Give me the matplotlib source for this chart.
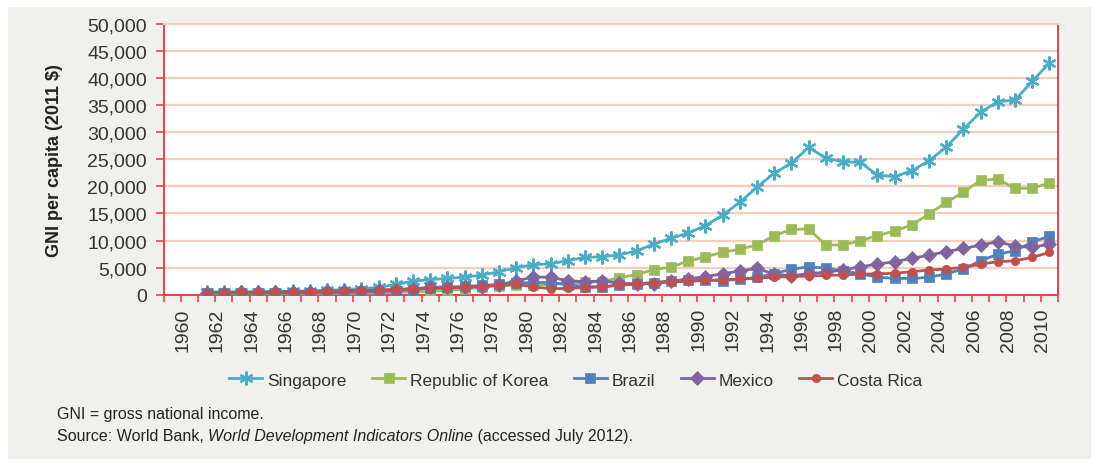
import matplotlib
matplotlib.use("Agg")
import matplotlib.pyplot as plt
from matplotlib.patches import Rectangle

# ---------------- data ----------------
categories = list(range(1960, 2012))          # category axis 1960-2011
data_years = list(range(1962, 2012))          # data start 1962
tick_label_years = [str(y) for y in range(1960, 2011, 2)]

singapore = [500, 540, 520, 540, 590, 650, 720, 820, 950, 1100,
             1350, 1900, 2500, 2800, 3000, 3250, 3600, 4250, 5000, 5550,
             5700, 6300, 6900, 7000, 7350, 8100, 9350, 10400, 11400, 12750,
             14700, 17050, 19850, 22450, 24300, 27200, 25250, 24550, 24450, 22100,
             21800, 22900, 24750, 27250, 30600, 33700, 35650, 35950, 39400, 42800]
korea = [110, 130, 130, 130, 140, 160, 190, 230, 270, 300,
         320, 400, 530, 600, 800, 1030, 1370, 1660, 1700, 1800,
         1900, 2100, 2300, 2400, 3150, 3700, 4620, 5100, 6200, 7000,
         7830, 8400, 9200, 10900, 12050, 12150, 9180, 9180, 9970, 10900,
         11800, 12870, 14900, 17050, 18900, 21150, 21350, 19650, 19650, 20650]
brazil = [250, 260, 260, 260, 280, 300, 330, 370, 430, 490,
          570, 730, 960, 1150, 1350, 1530, 1700, 1900, 2150, 2250,
          2250, 1850, 1500, 1450, 1800, 2050, 2200, 2600, 2750, 2700,
          2600, 2850, 3200, 3900, 4700, 5150, 4900, 4400, 3850, 3250,
          3000, 3000, 3200, 3850, 4750, 6250, 7500, 8100, 9750, 10800]
mexico = [350, 380, 420, 460, 500, 530, 570, 620, 690, 740,
          800, 910, 1100, 1350, 1450, 1350, 1500, 1850, 2500, 3300,
          3200, 2600, 2400, 2550, 2150, 2000, 2050, 2450, 2900, 3350,
          3850, 4400, 4850, 3800, 3500, 3900, 4150, 4600, 5150, 5650,
          6100, 6700, 7300, 7950, 8550, 9150, 9800, 8950, 8750, 9350]
costa_rica = [380, 400, 410, 430, 460, 490, 550, 620, 700, 780,
              850, 980, 1100, 1150, 1250, 1400, 1550, 1800, 1950, 1450,
              1100, 1150, 1300, 1450, 1750, 2000, 2200, 2400, 2450, 2650,
              2750, 2900, 3050, 3250, 3350, 3450, 3550, 3650, 3800, 3850,
              3950, 4250, 4550, 4750, 5050, 5650, 6100, 6250, 6900, 7800]

series_names = ["Singapore", "Republic of Korea", "Brazil", "Mexico", "Costa Rica"]
series_values = [singapore, korea, brazil, mexico, costa_rica]
series_colors = ["#4bacc6", "#9bbb59", "#4f81bd", "#8064a2", "#c0504d"]
series_markers = [(6, 2, 0), "s", "s", "D", "o"]
series_ms = [10, 7.5, 7.5, 7, 6]

y_ticks = list(range(0, 50001, 5000))

# ---------------- figure ----------------
W, H, DPI = 1098, 464, 100
fig = plt.figure(figsize=(W / DPI, H / DPI), dpi=DPI, facecolor="white")
bg = "#f0f0ec"
fig.patches.append(Rectangle((8 / W, 4 / H), (1091 - 8) / W, (456 - 4) / H,
                             transform=fig.transFigure, facecolor=bg,
                             edgecolor="none", zorder=-10))

left, right, top, bottom = 163.5, 1058, 25, 295.7
ax = fig.add_axes([left / W, 1 - bottom / H, (right - left) / W, (bottom - top) / H])
ax.set_zorder(5)
ax.set_facecolor("white")

FONT = ["Liberation Sans", "DejaVu Sans"]

cat_index = {y: i for i, y in enumerate(categories)}
xs = [cat_index[y] for y in data_years]

handles = []
for name, vals, col, mk, ms in zip(series_names, series_values, series_colors,
                                   series_markers, series_ms):
    mew = 1.6 if mk == (6, 2, 0) else 0.5
    h, = ax.plot(xs, vals, color=col, lw=2.0, marker=mk, ms=ms,
                 markerfacecolor=col, markeredgecolor=col, markeredgewidth=mew,
                 label=name, zorder=3)
    handles.append(h)

ax.set_xlim(-0.5, len(categories) - 0.5)
ax.set_ylim(0, 50000)

# gridlines
ax.set_yticks(y_ticks)
ax.set_yticklabels([f"{v:,}" for v in y_ticks], fontsize=14, family=FONT, color="#333333")
ax.yaxis.grid(True, color="#f9cbb9", lw=1.6, zorder=0)
ax.set_axisbelow(True)

# x: tick marks at category boundaries, labels slightly right of centers
bounds = [i - 0.5 for i in range(len(categories) + 1)]
ax.set_xticks(bounds)
ax.set_xticklabels([""] * len(bounds))
lab_pos = [cat_index[int(y)] + 0.62 for y in tick_label_years]
ax.set_xticks(lab_pos, tick_label_years, minor=True)
ax.tick_params(axis="x", which="minor", length=0, pad=9, labelrotation=90,
               labelsize=14, labelcolor="#333333")
for t in ax.get_xticklabels(minor=True):
    t.set_family(FONT)

red = "#e8404a"
ax.tick_params(axis="x", which="major", direction="out", length=5, width=1.2, color=red)
ax.tick_params(axis="y", direction="out", length=6, width=1.2, color=red, pad=6)

for s in ["left", "bottom", "right"]:
    ax.spines[s].set_color(red)
    ax.spines[s].set_linewidth(1.4)
ax.spines["top"].set_color("#f9cbb9")
ax.spines["top"].set_linewidth(1.4)

ax.set_ylabel("GNI per capita (2011 $)", fontsize=13, fontweight="bold",
              family=FONT, color="#222222", labelpad=10)
ax.yaxis.set_label_coords((63 - left) / (right - left), 0.5)

# legend
leg = fig.legend(handles=handles, loc="center", bbox_to_anchor=(576 / W, 1 - 381 / H),
                 ncol=5, frameon=False, handlelength=1.9, handletextpad=0.3,
                 columnspacing=1.45, prop={"family": FONT, "size": 12.5})
for t in leg.get_texts():
    t.set_color("#333333")

# notes
fig.text(57 / W, 1 - 415 / H, "GNI = gross national income.", fontsize=11.5,
         family=FONT, color="#222222", va="center", ha="left")
parts = [("Source: World Bank, ", "normal"),
         ("World Development Indicators Online", "italic"),
         (" (accessed July 2012).", "normal")]
fig.canvas.draw()
renderer = fig.canvas.get_renderer()
x0 = 57
for txt, style in parts:
    t = fig.text(x0 / W, 1 - 437 / H, txt, fontsize=11.5, family=FONT,
                 style=style, color="#222222", va="center", ha="left")
    bb = t.get_window_extent(renderer=renderer)
    x0 = bb.x1

fig.savefig("out.png", dpi=DPI, facecolor="white")
